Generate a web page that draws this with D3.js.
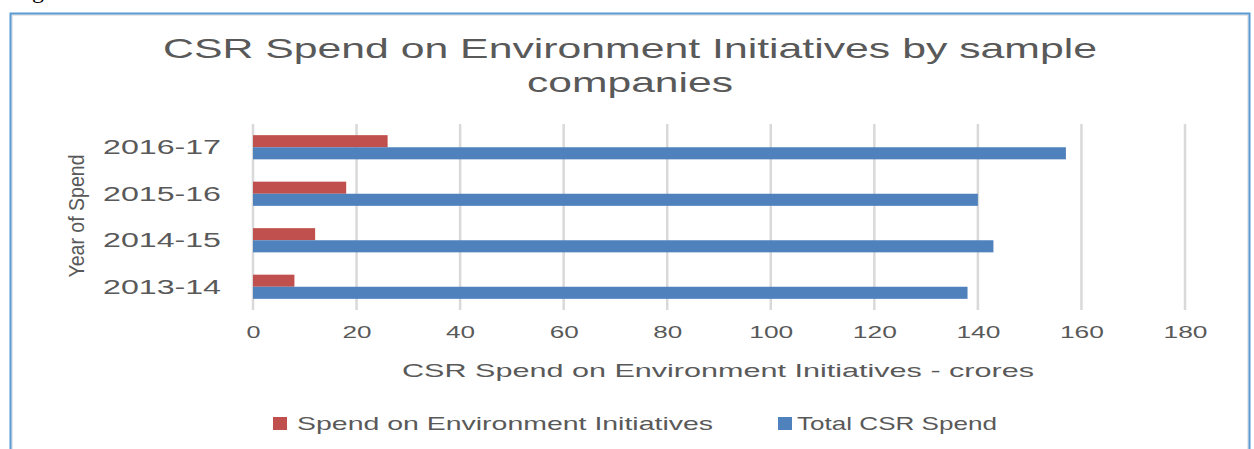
<!DOCTYPE html>
<html><head><meta charset="utf-8">
<script src="https://cdn.jsdelivr.net/npm/d3@7"></script>
<style>body{margin:0;background:#fff;}svg{display:block;}</style>
</head><body>
<svg id="c" width="1254" height="449"></svg>
<script>
const categories = ["2016-17","2015-16","2014-15","2013-14"];
const envSpend = [26, 18, 12, 8];
const totalSpend = [157, 140, 143, 138];
const seriesNames = ["Spend on Environment Initiatives","Total CSR Spend"];
const xTicks = [0,20,40,60,80,100,120,140,160,180];

const svg = d3.select("#c");
const font = "'Liberation Sans', Arial, sans-serif";
const txt = "#595959";
const colors = ["#C0504D","#4F81BD"];

// caption remnant (text above the frame, cut off by the picture edge)
svg.append("text").attr("x",32).attr("y",-2).attr("font-family","'Liberation Serif', serif")
  .attr("font-size",24).attr("fill","#000").text("g");

// frame
svg.append("rect").attr("x",12).attr("y",15).attr("width",1236).attr("height",440)
  .attr("fill","none").attr("stroke","#d0d0d0").attr("stroke-width",1);
svg.append("rect").attr("x",10.5).attr("y",13.5).attr("width",1239).attr("height",445)
  .attr("fill","none").attr("stroke","#5B9BD5").attr("stroke-width",2);

const x = d3.scaleLinear().domain([0,180]).range([253,1185]);
const y = d3.scaleBand().domain(categories).range([124,310]).paddingInner(0.48).paddingOuter(0.24);
const ySub = d3.scaleBand().domain([0,1]).range([0,y.bandwidth()]);

// title
svg.append("text").attr("x",630).attr("y",58).attr("text-anchor","middle")
  .attr("font-family",font).attr("font-size",28).attr("fill",txt)
  .attr("textLength",934).attr("lengthAdjust","spacingAndGlyphs")
  .text("CSR Spend on Environment Initiatives by sample");
svg.append("text").attr("x",630).attr("y",92).attr("text-anchor","middle")
  .attr("font-family",font).attr("font-size",28).attr("fill",txt)
  .attr("textLength",206).attr("lengthAdjust","spacingAndGlyphs")
  .text("companies");

// gridlines
svg.append("g").selectAll("line").data(xTicks).join("line")
  .attr("x1",d=>x(d)).attr("x2",d=>x(d)).attr("y1",124).attr("y2",310)
  .attr("stroke","#D9D9D9").attr("stroke-width",2.5);

// x axis
const xAxis = d3.axisBottom(x).tickValues(xTicks).tickSize(0).tickPadding(0);
const gx = svg.append("g").attr("transform","translate(0,338)").call(xAxis);
gx.select(".domain").remove();
gx.selectAll("text").attr("font-family",font).attr("font-size",16).attr("fill",txt)
  .attr("dy",0).attr("textLength",d=>String(d).length*15-1).attr("lengthAdjust","spacingAndGlyphs");

// y axis
const yAxis = d3.axisLeft(y).tickSize(0).tickPadding(0);
const gy = svg.append("g").attr("transform","translate(221,0)").call(yAxis);
gy.select(".domain").remove();
gy.selectAll("text").attr("font-family",font).attr("font-size",20).attr("fill",txt)
  .attr("dy","0.35em").attr("textLength",118).attr("lengthAdjust","spacingAndGlyphs");

// bars
const groups = svg.append("g").selectAll("g").data(categories).join("g")
  .attr("transform",d=>`translate(0,${y(d)})`);
groups.append("rect").attr("x",x(0)).attr("y",ySub(0))
  .attr("width",(d,i)=>x(envSpend[i])-x(0)).attr("height",ySub.bandwidth()).attr("fill",colors[0]);
groups.append("rect").attr("x",x(0)).attr("y",ySub(1))
  .attr("width",(d,i)=>x(totalSpend[i])-x(0)).attr("height",ySub.bandwidth()).attr("fill",colors[1]);

// axis titles
svg.append("text").attr("x",718).attr("y",377).attr("text-anchor","middle")
  .attr("font-family",font).attr("font-size",19).attr("fill",txt)
  .attr("textLength",632).attr("lengthAdjust","spacingAndGlyphs")
  .text("CSR Spend on Environment Initiatives - crores");
svg.append("text").attr("transform","translate(84,216) rotate(-90)").attr("text-anchor","middle")
  .attr("font-family",font).attr("font-size",22).attr("fill",txt)
  .attr("textLength",123).attr("lengthAdjust","spacingAndGlyphs")
  .text("Year of Spend");

// legend
const legX = [273, 778];
const legW = [416, 200];
const leg = svg.append("g").selectAll("g").data(seriesNames).join("g")
  .attr("transform",(d,i)=>`translate(${legX[i]},417)`);
leg.append("rect").attr("x",0).attr("y",0).attr("width",14).attr("height",13).attr("fill",(d,i)=>colors[i]);
leg.append("text").attr("x",(d,i)=>i===0?24:19).attr("y",13).attr("font-family",font).attr("font-size",19)
  .attr("fill",txt).attr("textLength",(d,i)=>legW[i]).attr("lengthAdjust","spacingAndGlyphs").text(d=>d);
</script>
</body></html>
